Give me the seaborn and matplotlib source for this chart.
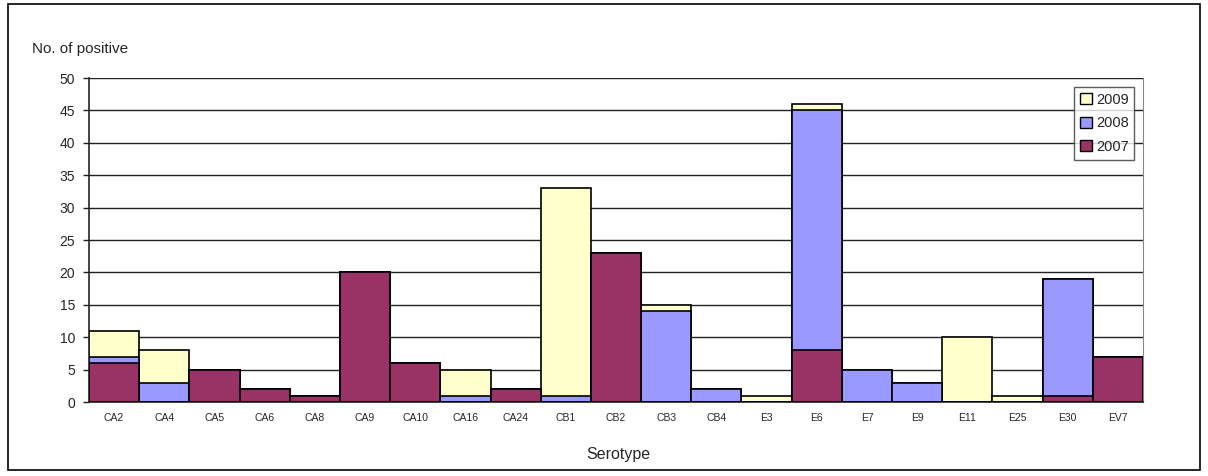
import matplotlib
matplotlib.use("Agg")
import matplotlib.pyplot as plt
from matplotlib.patches import Patch, Rectangle
import seaborn as sns
import numpy as np

serotypes = ["CA2", "CA4", "CA5", "CA6", "CA8", "CA9", "CA10", "CA16", "CA24", "CB1",
             "CB2", "CB3", "CB4", "E3", "E6", "E7", "E9", "E11", "E25", "E30", "EV7"]
y2007 = [6, 0, 5, 2, 1, 20, 6, 0, 2, 0, 23, 0, 0, 0, 8, 0, 0, 0, 0, 1, 7]
y2008 = [1, 3, 0, 0, 0, 0, 0, 1, 0, 1, 0, 14, 2, 0, 37, 5, 3, 0, 0, 18, 0]
y2009 = [4, 5, 0, 0, 0, 0, 0, 4, 0, 32, 0, 1, 0, 1, 1, 0, 0, 10, 1, 0, 0]
years = ["2009", "2008", "2007"]
colors = {"2009": "#FFFFCC", "2008": "#9999FF", "2007": "#993366"}

sns.set_style("white")
plt.rcParams["font.family"] = ["Liberation Sans", "DejaVu Sans"]

fig = plt.figure(figsize=(12.08, 4.76), dpi=100)
ax = fig.add_axes([89/1208, 1 - 402/476, (1143 - 89)/1208, (402 - 78)/476])

a07 = np.array(y2007)
a08 = np.array(y2008)
a09 = np.array(y2009)
layers = [("2009", a07 + a08 + a09), ("2008", a07 + a08), ("2007", a07)]
for name, vals in layers:
    sns.barplot(x=serotypes, y=vals, ax=ax, color=colors[name], width=1.0,
                edgecolor="black", linewidth=1.2, saturation=1, zorder=3)

ax.set_ylim(0, 50)
ax.set_xlim(-0.5, len(serotypes) - 0.5)
ax.set_yticks(range(0, 51, 5))
ax.yaxis.grid(True, color="#222222", linewidth=1.0, zorder=0)
ax.set_axisbelow(True)
ax.spines["top"].set_visible(False)
ax.spines["right"].set_color("#888888")
ax.spines["left"].set_color("#222222")
ax.spines["bottom"].set_color("#222222")
ax.spines["left"].set_linewidth(1.2)
ax.spines["bottom"].set_linewidth(1.2)
ax.tick_params(axis="y", labelsize=10, length=4, width=1, color="#222222", left=True, pad=6)
ax.tick_params(axis="x", labelsize=7.5, length=0, pad=8)
ax.set_xlabel("")
ax.set_ylabel("")

fig.text(32/1208, 1 - 49/476, "No. of positive", fontsize=11, ha="left", va="center")
fig.text(618/1208, 1 - 454/476, "Serotype", fontsize=11.5, ha="center", va="center")

handles = [Patch(facecolor=colors[y], edgecolor="black", linewidth=1) for y in years]
leg = ax.legend(handles, years, loc="upper left",
                bbox_to_anchor=((1074 - 89)/(1143 - 89), 1 - (87 - 78)/(402 - 78)),
                frameon=True, fancybox=False, fontsize=10.5, handlelength=0.8,
                handleheight=0.8, handletextpad=0.3, borderpad=0.4, labelspacing=0.65,
                borderaxespad=0)
leg.get_frame().set_edgecolor("#333333")
leg.get_frame().set_linewidth(1)
leg.set_zorder(5)

fig.patches.append(Rectangle((8/1208, 1 - 470/476), (1200 - 8)/1208, (470 - 4)/476,
                             transform=fig.transFigure, fill=False, edgecolor="black",
                             linewidth=1.2))

fig.savefig("out.png", dpi=100)
